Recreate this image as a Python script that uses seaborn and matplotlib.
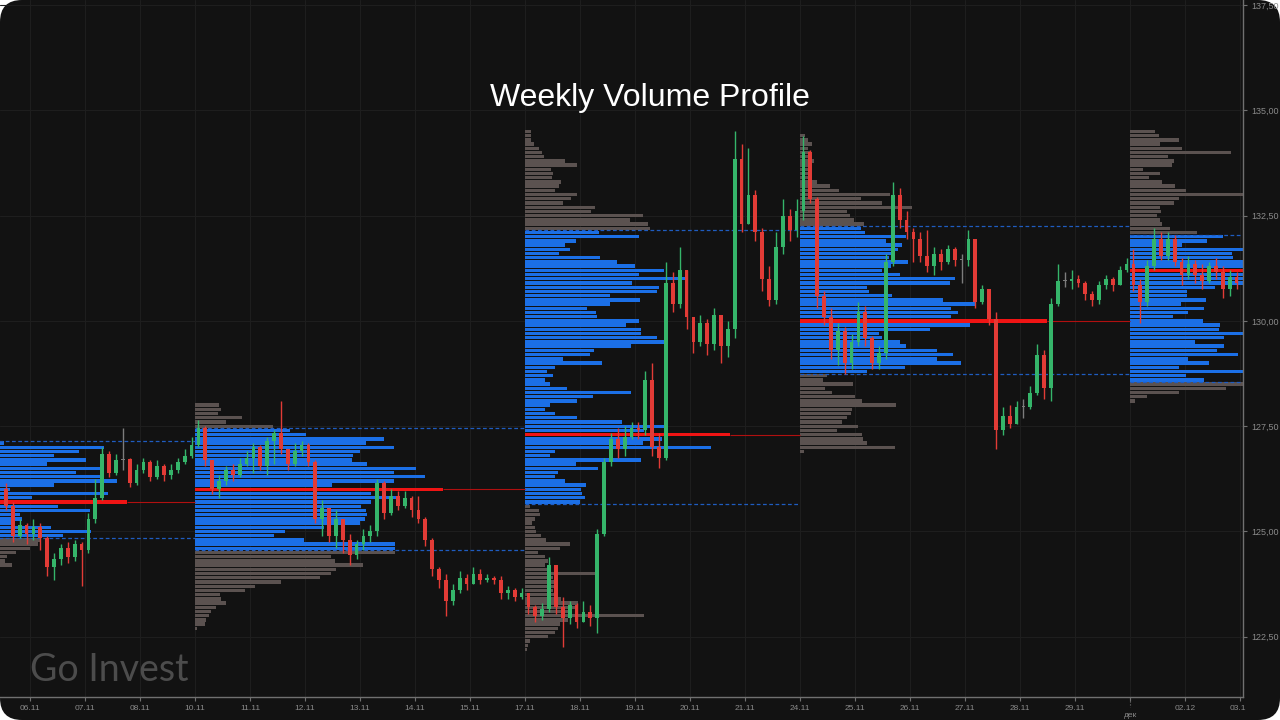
import numpy as np
import pandas as pd
import matplotlib
matplotlib.use("Agg")
import matplotlib.pyplot as plt
import seaborn as sns
from matplotlib.patches import FancyBboxPatch
from matplotlib.transforms import IdentityTransform, Bbox

# ---------------- data ----------------
day_labels = ["06.11", "07.11", "08.11", "10.11", "11.11", "12.11", "13.11", "14.11",
              "15.11", "17.11", "18.11", "19.11", "20.11", "21.11", "24.11", "25.11",
              "26.11", "27.11", "28.11", "29.11", "", "02.12", "03.12"]
price_ticks = [122.5, 125.0, 127.5, 130.0, 132.5, 135.0, 137.5]
price_labels = ["122,50", "125,00", "127,50", "130,00", "132,50", "135,00", "137,50"]

# hourly-ish candles, 8 per day, starting at the 5th slot of 05.11
first_open = 126.0
close = [
    125.6, 124.9, 125.15, 124.95,
    125.1, 124.85, 124.15, 124.35, 124.6, 124.4, 124.7, 124.55,
    125.3, 125.8, 126.85, 126.4, 126.7, 126.72, 126.15, 126.45,
    126.65, 126.3, 126.55, 126.35, 126.45, 126.65, 126.8, 127.05,
    127.45, 126.7, 126.0, 126.2, 126.45, 126.35, 126.6, 126.75,
    127.0, 126.55, 127.15, 127.35, 126.95, 126.6, 126.9, 127.05,
    126.65, 125.3, 125.55, 124.9, 125.3, 124.8, 124.45, 124.7,
    124.9, 125.0, 126.15, 125.45, 125.85, 125.6, 125.8, 125.5,
    125.3, 124.8, 124.1, 123.85, 123.35, 123.6, 123.9, 123.75,
    124.0, 123.85, 123.9, 123.85, 123.55, 123.6, 123.45, 123.55,
    123.2, 123.0, 123.15, 124.2, 123.2, 122.95, 123.25, 122.85,
    123.1, 122.95, 124.95, 126.65, 127.2, 126.95, 127.25, 127.45,
    127.4, 128.6, 127.0, 126.75, 130.9, 130.4, 131.2, 130.1,
    129.5, 129.95, 129.45, 130.15, 129.4, 129.8, 133.85, 132.3,
    133.0, 132.1, 131.0, 130.5, 131.75, 132.5, 132.15, 132.6,
    134.0, 132.9, 130.6, 130.1, 129.3, 129.75, 129.0, 129.5,
    130.2, 129.6, 129.0, 129.25, 131.4, 133.0, 132.4, 132.1,
    131.95, 131.55, 131.3, 131.6, 131.4, 131.7, 131.45, 131.45,
    131.95, 130.45, 130.75, 130.05, 127.4, 127.75, 127.55, 127.95,
    127.95, 128.3, 129.2, 128.4, 130.4, 130.95, 130.95, 131.0,
    130.9, 130.65, 130.5, 130.85, 131.0, 130.85, 131.2, 131.35,
    130.85, 130.45, 131.3, 131.95, 131.55, 131.95, 131.4, 131.1,
    131.35, 131.1, 130.95, 131.3, 131.15, 130.75, 131.05, 130.9,
]
high = [
    126.15, 125.7, 125.3, 125.2,
    125.3, 125.2, 124.9, 124.5, 124.7, 124.75, 124.8, 124.75,
    125.45, 126.25, 127.0, 126.9, 126.85, 127.45, 126.75, 126.6,
    126.75, 126.7, 126.7, 126.6, 126.6, 126.75, 126.95, 127.25,
    127.65, 127.5, 126.7, 126.35, 126.55, 126.6, 126.75, 126.9,
    127.1, 127.05, 127.25, 127.4, 128.1, 126.95, 127.1, 127.15,
    127.1, 126.7, 125.75, 125.5, 125.5, 125.3, 124.95, 124.8,
    125.05, 125.15, 126.25, 126.2, 126.0, 125.95, 125.95, 125.85,
    125.85, 125.35, 124.85, 124.15, 124.0, 123.75, 124.05, 124.0,
    124.15, 124.1, 124.0, 123.95, 123.95, 123.7, 123.65, 123.65,
    123.55, 123.25, 123.3, 124.4, 124.1, 123.45, 123.35, 123.3,
    123.35, 123.25, 125.05, 126.75, 127.35, 127.45, 127.5, 127.6,
    127.6, 128.8, 129.0, 127.35, 131.4, 131.15, 131.75, 131.1,
    130.05, 130.15, 130.05, 130.3, 130.0, 130.0, 134.5, 134.2,
    134.1, 133.1, 132.2, 131.3, 132.1, 132.9, 132.65, 132.9,
    134.4, 134.05, 132.95, 130.7, 130.3, 129.95, 129.85, 129.7,
    130.45, 130.35, 129.65, 129.4, 131.6, 133.3, 133.15, 132.6,
    132.2, 132.1, 132.15, 131.75, 131.7, 131.8, 131.75, 131.6,
    132.15, 131.7, 130.85, 130.7, 130.2, 127.95, 128.0, 128.1,
    128.15, 128.45, 129.45, 129.3, 130.55, 131.35, 131.15, 131.2,
    131.1, 130.95, 130.7, 130.95, 131.1, 131.05, 131.3, 131.5,
    131.7, 131.0, 131.45, 132.2, 132.1, 132.1, 132.05, 131.5,
    131.55, 131.45, 131.35, 131.4, 131.5, 131.3, 131.2, 131.15,
]
low = [
    125.5, 124.75, 124.85, 124.7,
    124.8, 124.55, 123.95, 123.85, 124.2, 124.25, 124.3, 123.7,
    124.5, 125.2, 125.75, 126.3, 126.35, 126.45, 126.05, 126.1,
    126.4, 126.2, 126.25, 126.2, 126.25, 126.4, 126.6, 126.75,
    127.0, 126.55, 125.9, 125.8, 126.1, 126.2, 126.3, 126.55,
    126.4, 126.45, 126.35, 126.6, 126.85, 126.45, 126.55, 126.8,
    126.55, 125.2, 124.9, 124.75, 124.6, 124.5, 124.2, 124.35,
    124.55, 124.75, 124.9, 125.3, 125.4, 125.5, 125.55, 125.35,
    125.2, 124.65, 123.95, 123.65, 123.0, 123.25, 123.55, 123.6,
    123.75, 123.75, 123.8, 123.75, 123.4, 123.4, 123.35, 123.4,
    123.05, 122.85, 122.9, 123.1, 123.05, 122.25, 122.8, 122.7,
    122.85, 122.75, 122.6, 124.9, 126.55, 126.75, 126.8, 127.2,
    127.2, 127.3, 126.8, 126.5, 126.7, 130.2, 130.3, 129.8,
    129.25, 129.4, 129.2, 129.3, 129.0, 129.15, 129.6, 132.1,
    132.6, 131.9, 130.7, 130.35, 130.4, 131.6, 131.9, 132.0,
    132.4, 132.8, 130.3, 129.9, 129.1, 128.95, 128.75, 128.85,
    129.4, 129.4, 128.85, 128.85, 129.1, 131.3, 132.2, 131.95,
    131.4, 131.4, 131.15, 131.1, 131.2, 131.35, 131.3, 130.9,
    131.3, 130.3, 130.4, 129.9, 126.95, 127.3, 127.45, 127.6,
    127.7, 127.9, 128.25, 128.15, 128.1, 130.35, 130.8, 130.75,
    130.8, 130.5, 130.35, 130.4, 130.75, 130.7, 130.85, 131.15,
    130.7, 129.95, 130.35, 131.2, 131.45, 131.45, 131.3, 130.85,
    131.0, 130.9, 130.75, 130.9, 131.0, 130.55, 130.6, 130.75,
]

# weekly volume profiles (bins of 0.10 from the top price downwards)
bin_size = 0.1
week_start = [-3.0, 3, 9, 14, 20]
week_end = [3, 9, 14, 20, 22.05]
week_top = [127.1, 128.0, 134.5, 134.4, 134.5]
va_high = [127.15, 127.43, 132.14, 132.24, 132.04]
va_low = [124.85, 124.54, 125.64, 128.74, 128.53]

vol_w1 = [139, 239, 214, 189, 221, 182, 236, 211, 236, 252, 189, 145, 243, 167, 262,
          193, 225, 155, 157, 150, 186, 226, 198, 175, 173, 165, 151, 142, 140, 147]
vol_w2 = [24, 26, 23, 47, 31, 78, 95, 111, 189, 171, 199, 165, 158, 157, 172, 221, 199,
          230, 199, 137, 248, 176, 203, 176, 166, 171, 172, 170, 165, 129, 90, 79, 109,
          200, 200, 200, 136, 140, 168, 141, 136, 125, 86, 60, 50, 25, 26, 31, 21, 16,
          14, 11, 10, 2]
vol_w3 = [6, 6, 6, 9, 14, 17, 19, 40, 52, 26, 28, 27, 36, 34, 30, 52, 46, 38, 70, 66,
          118, 105, 123, 125, 74, 114, 51, 40, 45, 34, 75, 92, 110, 139, 114, 162, 107,
          134, 132, 85, 115, 85, 62, 71, 72, 114, 101, 116, 116, 132, 143, 106, 69, 65,
          38, 77, 30, 22, 28, 20, 25, 42, 106, 68, 52, 25, 20, 30, 52, 97, 140, 119, 205,
          137, 118, 186, 30, 25, 116, 51, 73, 33, 30, 40, 61, 56, 57, 60, 55, 5, 14, 15,
          10, 7, 10, 11, 16, 21, 45, 35, 13, 20, 23, 20, 25, 72, 28, 30, 31, 28, 30, 36,
          53, 50, 46, 119, 43, 35, 33, 30, 23, 5, 3, 2]
vol_w4 = [5, 8, 12, 8, 10, 12, 14, 10, 9, 12, 12, 17, 30, 39, 90, 61, 82, 112, 47, 50,
          54, 64, 61, 65, 106, 86, 102, 98, 95, 89, 108, 91, 82, 100, 155, 150, 67, 69,
          92, 143, 176, 151, 158, 151, 247, 170, 130, 79, 82, 100, 106, 137, 153, 137,
          161, 105, 67, 27, 23, 53, 25, 32, 55, 62, 96, 52, 51, 47, 42, 58, 37, 62, 63,
          67, 95, 4]
vol_w5 = [25, 29, 49, 30, 52, 101, 38, 44, 42, 13, 30, 19, 32, 45, 56, 125, 49, 44, 30,
          31, 27, 30, 32, 40, 67, 93, 77, 52, 120, 102, 103, 125, 130, 175, 140, 128, 118,
          85, 57, 57, 76, 51, 74, 58, 43, 73, 90, 89, 116, 94, 65, 94, 87, 108, 58, 79,
          49, 118, 56, 74, 120, 96, 49, 17, 5]
profiles = [vol_w1, vol_w2, vol_w3, vol_w4, vol_w5]

# ---------------- style ----------------
BG = "#121212"
UP = "#35b56a"
DOWN = "#e23b36"
FLAT = "#7c7c7c"
VA_BLUE = "#1b6fe6"
OUT_GREY = "#5b5250"
POC_RED = "#f01414"

sns.set_theme(style="dark", rc={"axes.facecolor": "none", "figure.facecolor": "white"})
plt.rcParams["font.family"] = ["Liberation Sans", "DejaVu Sans"]

fig = plt.figure(figsize=(12.8, 7.2), dpi=100)
fig.add_artist(FancyBboxPatch((0, 0), 1280, 720, boxstyle="round,pad=0,rounding_size=22",
                              transform=IdentityTransform(), facecolor=BG,
                              edgecolor="none", zorder=-10))
ax = fig.add_axes([0, 23 / 720, 1243 / 1280, 697 / 720])
ax.set_facecolor("none")
ax.set_xlim(-30 / 55, 1213 / 55)
ax.set_ylim(121.07, 137.62)

# ---------------- volume profiles ----------------
px_per_day = 55.0
for wi, vols in enumerate(profiles):
    vols = np.array(vols, dtype=float)
    prices = np.round(week_top[wi] - bin_size * np.arange(len(vols)), 2)
    widths = vols / px_per_day
    poc = int(np.argmax(vols))
    in_va = (prices <= va_high[wi] + 1e-9) & (prices >= va_low[wi] - 1e-9)
    colors = np.where(in_va, VA_BLUE, OUT_GREY).astype(object)
    colors[poc] = POC_RED
    ax.barh(prices, widths, left=week_start[wi], height=0.08, color=list(colors),
            linewidth=0, zorder=1)
    top_va = prices[in_va].max() + bin_size / 2
    bot_va = prices[in_va].min() - bin_size / 2
    ax.hlines([top_va, bot_va], week_start[wi], week_end[wi], colors="#1f5cc0",
              linestyles=(0, (3, 2)), linewidth=0.9, zorder=2)
    ax.hlines(prices[poc], week_start[wi] + widths[poc], week_end[wi], colors="#b01010",
              linewidth=0.8, zorder=2)

# ---------------- candles ----------------
df = pd.DataFrame({"close": close, "high": high, "low": low})
df["open"] = [first_open] + close[:-1]
df["x"] = -1 + (np.arange(len(df)) + 4 + 0.5) / 8
df["high"] = df[["high", "open", "close"]].max(axis=1)
df["low"] = df[["low", "open", "close"]].min(axis=1)
diff = df["close"] - df["open"]
df["color"] = np.where(diff.abs() < 0.03, FLAT, np.where(diff > 0, UP, DOWN))
body_lo = df[["open", "close"]].min(axis=1)
body_h = diff.abs().clip(lower=0.03)

ax.vlines(df["x"], df["low"], df["high"], colors=df["color"], linewidth=1.0, zorder=3)
ax.bar(df["x"], body_h, bottom=body_lo, width=0.07, color=df["color"], linewidth=0,
       zorder=4)

# ---------------- axes ----------------
ax.set_xticks(range(len(day_labels)))
ax.set_xticklabels(day_labels)
ax.yaxis.tick_right()
ax.set_yticks(price_ticks)
ax.set_yticklabels(price_labels)
ax.grid(True, color="#1e1e1e", linewidth=0.8)
ax.set_axisbelow(True)
for side in ["top", "left"]:
    ax.spines[side].set_visible(False)
for side in ["right", "bottom"]:
    ax.spines[side].set_visible(True)
    ax.spines[side].set_color("#707070")
    ax.spines[side].set_linewidth(1.0)
ax.tick_params(axis="x", colors="#707070", labelcolor="#8a8a8a", labelsize=6,
               length=3, width=0.8, pad=3, bottom=True)
ax.tick_params(axis="y", colors="#707070", labelcolor="#8a8a8a", labelsize=6.5,
               length=3, width=0.8, pad=3, right=True, left=False)
last_lbl = ax.get_xticklabels()[-1]
last_lbl.set_clip_box(Bbox([[0, 0], [1246, 720]]))
last_lbl.set_clip_on(True)
ax.text(20, -0.026, "дек", transform=ax.get_xaxis_transform(), ha="center", va="center",
        fontsize=6, color="#8a8a8a")
ax.plot([20, 20], [-0.002, -0.014], transform=ax.get_xaxis_transform(), clip_on=False,
        color="#707070", linestyle=":", linewidth=0.8)

fig.text(650 / 1280, 1 - 98 / 720, "Weekly Volume Profile", ha="center", va="center",
         color="white", fontsize=23)
fig.text(30 / 1280, 1 - 670 / 720, "Go Invest", ha="left", va="center",
         color="#4c4c4c", fontsize=27, family=["Lato", "DejaVu Sans"])

fig.savefig("out.png", dpi=100, facecolor="white")
